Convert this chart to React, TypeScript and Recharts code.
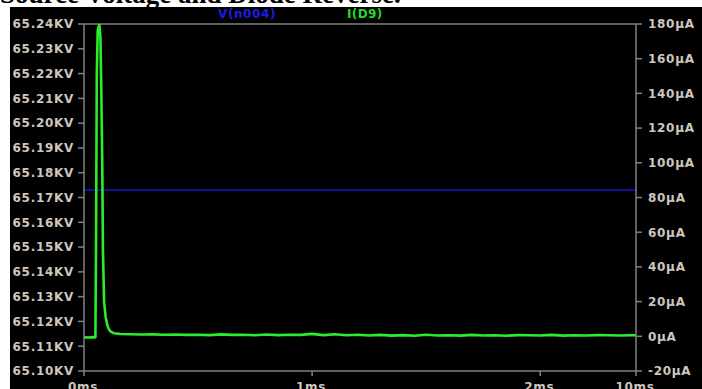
import React from "react"
import { LineChart, Line, XAxis, YAxis, ReferenceLine } from "recharts"

// transient sample: diode current in µA over time in ms
const timeMs = [
  0, 0.02, 0.035, 0.048, 0.05, 0.053, 0.056, 0.06, 0.067, 0.072, 0.076, 0.08,
  0.083, 0.088, 0.095, 0.104, 0.114, 0.13, 0.16, 0.2, 0.25, 0.3, 0.35, 0.4,
  0.45, 0.5, 0.55, 0.6, 0.65, 0.7, 0.75, 0.8, 0.85, 0.9, 0.95, 1.0, 1.05, 1.1,
  1.15, 1.2, 1.25, 1.3, 1.35, 1.4, 1.45, 1.5, 1.55, 1.6, 1.65, 1.7, 1.75, 1.8,
  1.85, 1.9, 1.95, 2.0, 2.05, 2.1, 2.15, 2.2, 2.25, 2.3, 2.35, 2.4, 2.42,
]
const currentUA = [
  -0.6, -0.7, -0.5, -0.6, -0.5, 60, 150, 176, 180, 172, 140, 100,
  50, 20, 11, 5.5, 3, 1.8, 1.3, 1.2, 1.0, 1.1, 0.9, 1.0,
  0.8, 0.9, 0.7, 1.1, 0.8, 0.9, 0.6, 1.0, 0.7, 0.9, 0.8, 1.4, 0.7, 1.2,
  0.6, 0.9, 0.5, 0.8, 0.4, 0.7, 0.3, 0.9, 0.5, 0.6, 0.4, 0.8, 0.5, 0.6,
  0.3, 0.7, 0.6, 0.5, 0.8, 0.4, 0.6, 0.5, 0.7, 0.6, 0.5, 0.6, 0.6,
]

// source node voltage in kV
const voltageTimeMs = [0, 2.42]
const voltageKV = [65.173, 65.173]

const timeTicks = [0, 1, 2, 2.42]
const timeTickLabels = ["0ms", "1ms", "2ms", "10ms"]
const voltageTicks = [
  65.1, 65.11, 65.12, 65.13, 65.14, 65.15, 65.16, 65.17, 65.18, 65.19, 65.2,
  65.21, 65.22, 65.23, 65.24,
]
const currentTicks = [-20, 0, 20, 40, 60, 80, 100, 120, 140, 160, 180]

const seriesNames = ["V(n004)", "I(D9)"]
const caption = "Source Voltage and Diode Reverse."

const currentData = timeMs.map((t, k) => ({ t, i: currentUA[k] }))
const voltageData = voltageTimeMs.map((t, k) => ({ t, v: voltageKV[k] }))

const AXIS = "#808080"
const LABEL = "#cdc6bd"
const labelFont = {
  fontFamily: "'DejaVu Sans', sans-serif",
  fontWeight: 700,
  fontSize: 12,
  letterSpacing: 0.7,
}

function VoltTick({ x, y, payload }: any) {
  return (
    <text x={x - 2} y={y} dy={4.3} textAnchor="end" fill={LABEL} style={labelFont}>
      {payload.value.toFixed(2)}KV
    </text>
  )
}

function CurrentTick({ x, y, payload }: any) {
  return (
    <text x={x + 4} y={y} dy={4.3} textAnchor="start" fill={LABEL} style={labelFont}>
      {payload.value}µA
    </text>
  )
}

function TimeTick({ x, y, payload }: any) {
  const idx = timeTicks.indexOf(payload.value)
  return (
    <text x={x - 1} y={y} dy={12.5} textAnchor="middle" fill={LABEL} style={labelFont}>
      {timeTickLabels[idx]}
    </text>
  )
}

export default function App() {
  return (
    <div
      style={{
        position: "absolute",
        left: 0,
        top: 0,
        width: 702,
        height: 389,
        background: "#fff",
        overflow: "hidden",
      }}
    >
      {/* caption above the plot, mostly cropped off */}
      <svg width={702} height={7} style={{ position: "absolute", left: 0, top: 0, overflow: "hidden" }}>
        <text
          x={0}
          y={3}
          fill="#000"
          style={{ fontFamily: "'Liberation Serif', serif", fontWeight: 700, fontSize: 27 }}
        >
          {caption}
        </text>
      </svg>

      <div
        style={{
          position: "absolute",
          left: 10,
          top: 7,
          width: 692,
          height: 382,
          background: "#000",
        }}
      >
        <LineChart width={692} height={382} margin={{ top: 17, right: 0, bottom: 0, left: 0 }}>
          <XAxis
            type="number"
            dataKey="t"
            domain={[0, 2.42]}
            ticks={timeTicks}
            height={18}
            tickSize={5}
            axisLine={{ stroke: AXIS, strokeWidth: 1.5 }}
            tickLine={{ stroke: AXIS, strokeWidth: 1.5 }}
            tick={<TimeTick />}
            allowDataOverflow
          />
          <YAxis
            yAxisId="v"
            orientation="left"
            width={74}
            domain={[65.1, 65.24]}
            ticks={voltageTicks}
            tickSize={6}
            axisLine={{ stroke: AXIS, strokeWidth: 1.5 }}
            tickLine={{ stroke: AXIS, strokeWidth: 1.5 }}
            tick={<VoltTick />}
            allowDataOverflow
          />
          <YAxis
            yAxisId="i"
            orientation="right"
            width={66}
            domain={[-20, 180]}
            ticks={currentTicks}
            tickSize={6}
            axisLine={{ stroke: AXIS, strokeWidth: 1.5 }}
            tickLine={{ stroke: AXIS, strokeWidth: 1.5 }}
            tick={<CurrentTick />}
            allowDataOverflow
          />
          <ReferenceLine yAxisId="i" y={180} stroke={AXIS} strokeWidth={1.5} />
          <Line
            yAxisId="v"
            data={voltageData}
            dataKey="v"
            name={seriesNames[0]}
            stroke="#10109a"
            strokeWidth={2}
            dot={false}
            isAnimationActive={false}
          />
          <Line
            yAxisId="i"
            data={currentData}
            dataKey="i"
            name={seriesNames[1]}
            stroke="#2aee2a"
            strokeWidth={2.6}
            strokeLinejoin="round"
            dot={false}
            isAnimationActive={false}
          />
        </LineChart>

        <div style={{ ...labelFont, letterSpacing: 0.6, position: "absolute", top: 0, left: 208, lineHeight: "14px", color: "#1c1ce0" }}>
          {seriesNames[0]}
        </div>
        <div style={{ ...labelFont, letterSpacing: 0.4, position: "absolute", top: 0, left: 337, lineHeight: "14px", color: "#22dd22" }}>
          {seriesNames[1]}
        </div>
      </div>
    </div>
  )
}
